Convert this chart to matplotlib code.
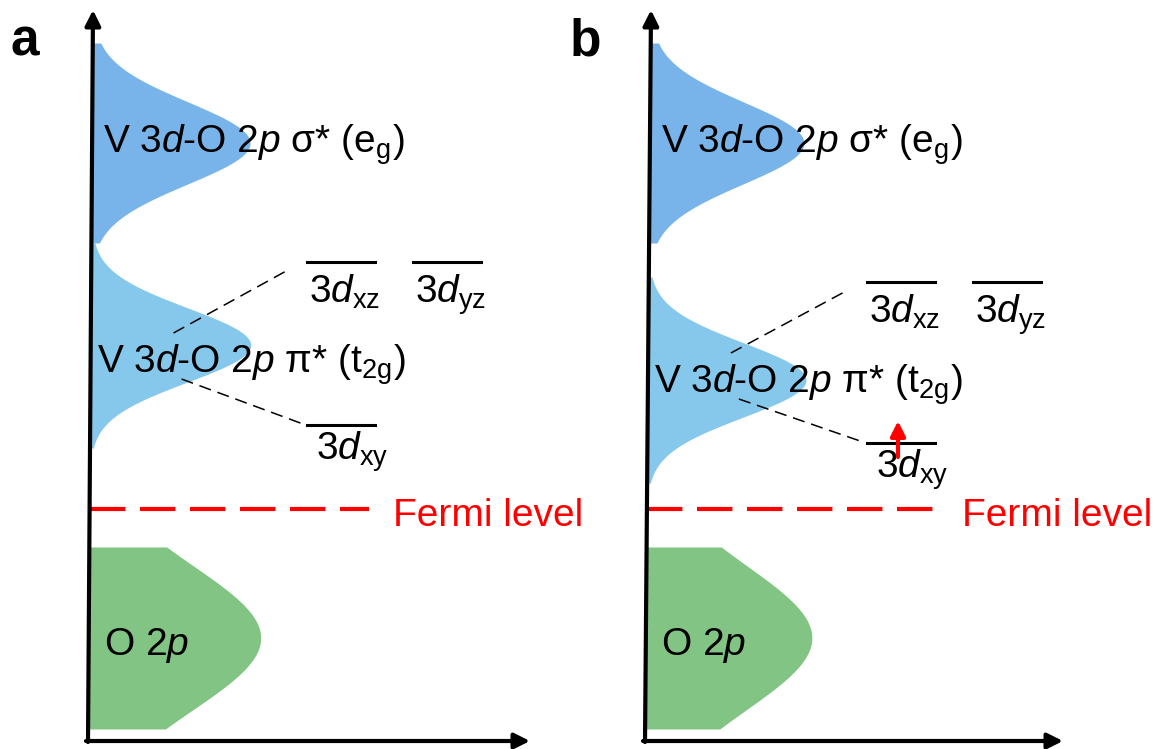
import numpy as np
import matplotlib
matplotlib.use("Agg")
import matplotlib.pyplot as plt
from matplotlib.patches import FancyArrowPatch

plt.rcParams['font.family'] = ['Liberation Sans', 'DejaVu Sans']
plt.rcParams['mathtext.fontset'] = 'custom'
plt.rcParams['mathtext.rm'] = 'Liberation Sans'
plt.rcParams['mathtext.it'] = 'Liberation Sans:italic'
plt.rcParams['mathtext.bf'] = 'Liberation Sans:bold'

# schematic values, in picture pixels (y grows downwards)
panels = ['a', 'b']
label_x = [10, 570]
axis_bottom_x = [88, 645]
axis_top_x = [93, 651]
axis_bottom_y = 742
axis_top_y = 10
haxis_end = [530, 1063]

eg_center = [143, 143]
eg_amp = [158, 154]
eg_sigma = 41
eg_half = 100
eg_text_y = [153, 153]

t2g_center = [345, 380]
t2g_amp = [160, 158]
t2g_sigma = 37
t2g_half = 103
t2g_text_y = [373, 393]

o2p_center = [638, 638]
o2p_amp = [172, 166]
o2p_sigma = 72
o2p_half = 91

level_x = [307, 867]
level_len = 68
yz_shift = 106
xz_y = [262, 282]
xy_y = [425, 443]

fermi_y = [509, 509]
fermi_end = [369, 937]
fermi_text_x = [393, 962]

col_eg = '#78B4EA'
col_t2g = '#86C8EC'
col_o2p = '#82C484'

fig = plt.figure(figsize=(11.71, 7.49), dpi=100)
ax = fig.add_axes([0, 0, 1, 1])
ax.set_xlim(0, 1171)
ax.set_ylim(749, 0)
ax.axis('off')

fs = 28


def axis_x(i, y):
    return axis_bottom_x[i] + (axis_top_x[i] - axis_bottom_x[i]) * (axis_bottom_y - y) / (axis_bottom_y - axis_top_y)


def band(i, c, amp, s, h, col):
    y = np.linspace(c - h, c + h, 400)
    x0 = axis_x(i, y)
    x1 = x0 + amp * np.exp(-(y - c) ** 2 / (2 * s ** 2))
    ax.fill_betweenx(y, x0, x1, color=col, lw=0, zorder=1)


for i, p in enumerate(panels):
    band(i, eg_center[i], eg_amp[i], eg_sigma, eg_half, col_eg)
    band(i, t2g_center[i], t2g_amp[i], t2g_sigma, t2g_half, col_t2g)
    band(i, o2p_center[i], o2p_amp[i], o2p_sigma, o2p_half, col_o2p)

    # axes arrows
    for tail, tip in [((axis_bottom_x[i], axis_bottom_y), (axis_top_x[i], axis_top_y)),
                      ((axis_bottom_x[i] - 2, 741), (haxis_end[i], 741))]:
        ax.add_patch(FancyArrowPatch(tail, tip, arrowstyle='-|>', mutation_scale=23,
                                     lw=3, color='black', shrinkA=0, shrinkB=0, zorder=5))

    ax.text(label_x[i], 55, p, fontsize=37, fontweight='bold', va='baseline')

    # band labels
    ty = t2g_text_y[i]
    ax.text(axis_x(i, 150) + 11, eg_text_y[i], r'V 3$d$-O 2$p$ σ* ($\mathrm{e}_\mathrm{g}$)',
            fontsize=fs, va='baseline', zorder=4)
    ax.text(axis_x(i, ty) + 6, ty, r'V 3$d$-O 2$p$ π* ($\mathrm{t}_\mathrm{2g}$)',
            fontsize=fs, va='baseline', zorder=4)
    ax.text(axis_x(i, 640) + 15, o2p_center[i] + 17, r'O 2$p$', fontsize=fs, va='baseline', zorder=4)

    # t2g levels
    lx = level_x[i]
    ax.plot([lx, lx + level_len], [xz_y[i], xz_y[i]], color='black', lw=2.2, zorder=3)
    ax.plot([lx + yz_shift, lx + yz_shift + level_len], [xz_y[i], xz_y[i]], color='black', lw=2.2, zorder=3)
    ax.plot([lx, lx + level_len], [xy_y[i], xy_y[i]], color='black', lw=2.2, zorder=3)
    ax.text(lx + 2, xz_y[i] + 41, r'3$d_\mathrm{xz}$', fontsize=fs, va='baseline')
    ax.text(lx + yz_shift + 2, xz_y[i] + 41, r'3$d_\mathrm{yz}$', fontsize=fs, va='baseline')
    ax.text(lx + 9, xy_y[i] + 35, r'3$d_\mathrm{xy}$', fontsize=fs, va='baseline')

    # dashed splitting guides
    ax.plot([axis_x(i, ty) + 83, lx - 19], [ty - 40, xz_y[i] + 8],
            color='black', lw=1.1, ls=(0, (8, 4.5)), zorder=3)
    ax.plot([axis_x(i, ty) + 91, lx - 4], [ty + 6, xy_y[i] - 1],
            color='black', lw=1.1, ls=(0, (8, 4.5)), zorder=3)

    # Fermi level
    ax.plot([axis_x(i, 509), fermi_end[i]], [fermi_y[i], fermi_y[i]], color='red', lw=3,
            ls=(0, (8.5, 3.5)), solid_capstyle='butt', dash_capstyle='butt', zorder=3)
    ax.text(fermi_text_x[i], fermi_y[i] + 17, 'Fermi level', color='red', fontsize=fs, va='baseline')

# electron in 3dxy for panel b
ax.add_patch(FancyArrowPatch((898, 457), (898, 421), arrowstyle='-|>', mutation_scale=22,
                             lw=3, color='red', shrinkA=0, shrinkB=0, zorder=6))

fig.savefig('out.png', dpi=100)
